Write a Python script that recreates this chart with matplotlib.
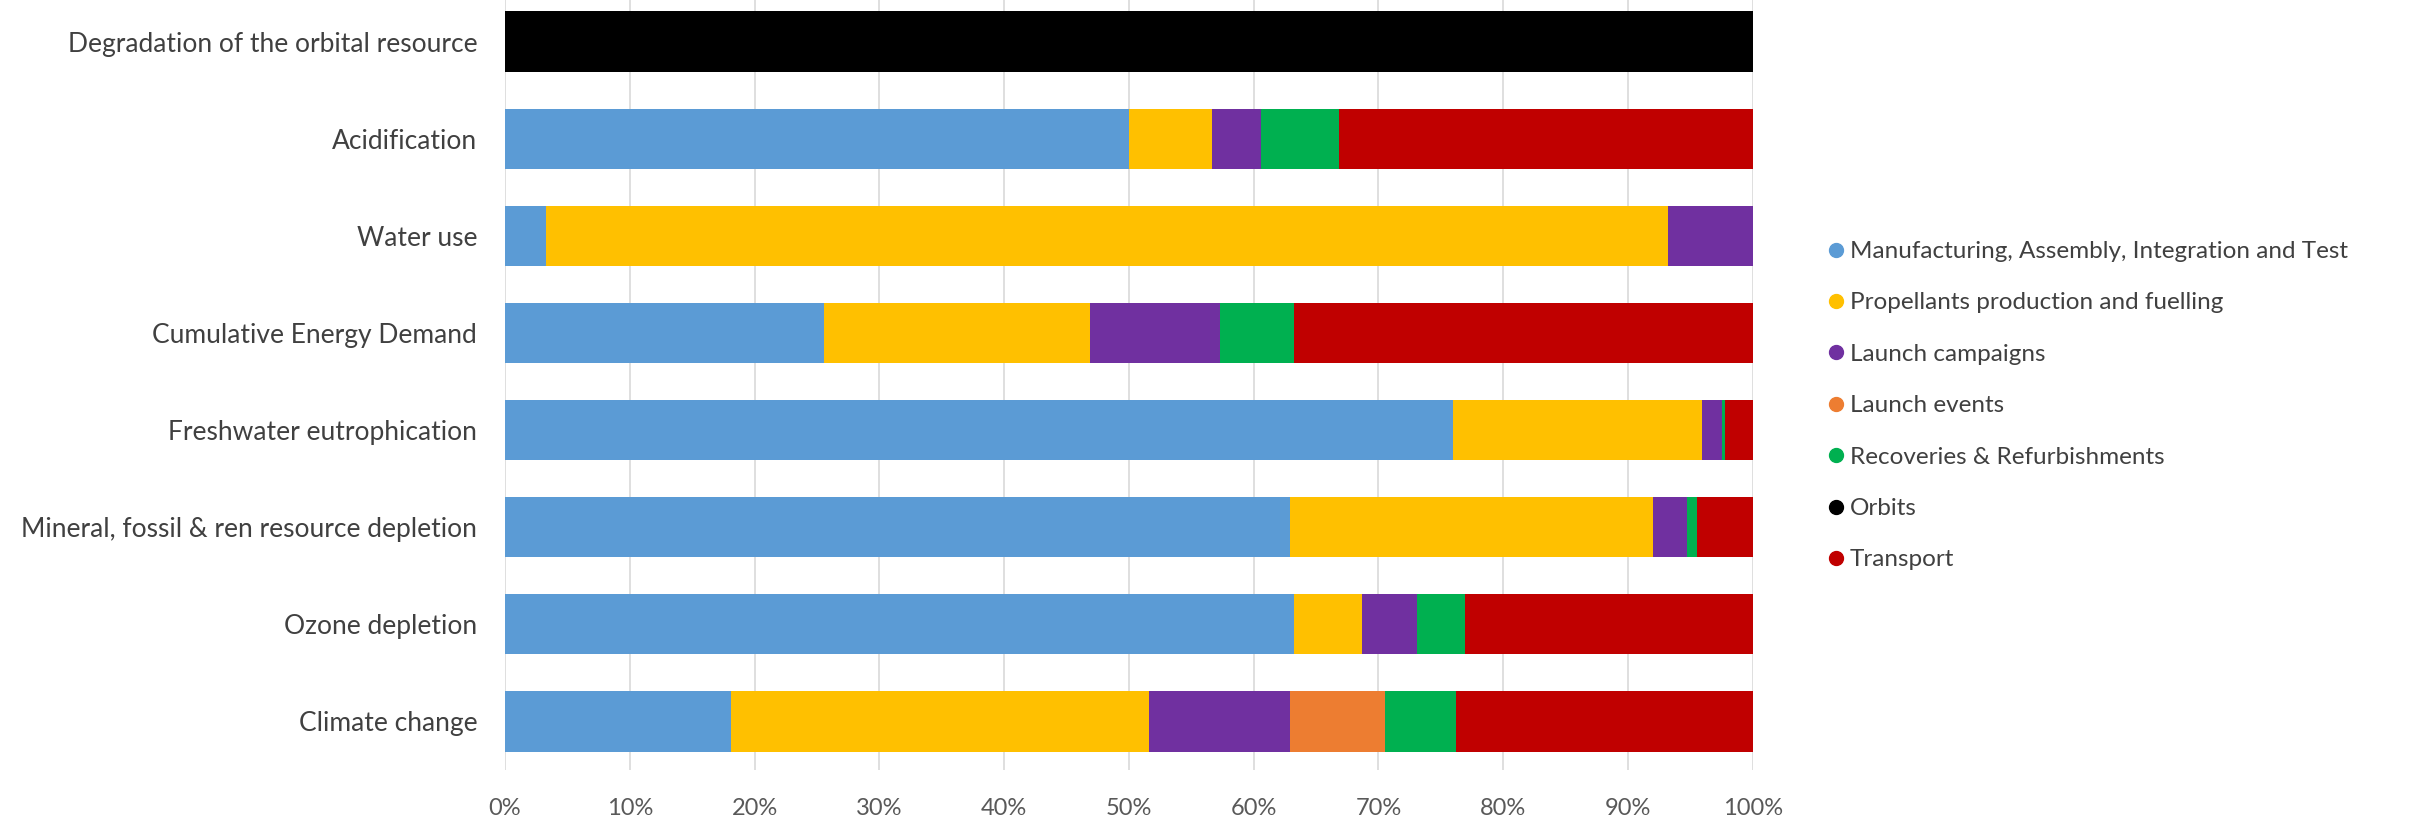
import matplotlib
matplotlib.use("Agg")
import matplotlib.pyplot as plt
from matplotlib.lines import Line2D
import numpy as np

plt.rcParams['font.family'] = ['Lato', 'DejaVu Sans']

# categories from bottom to top
categories = [
    "Climate change",
    "Ozone depletion",
    "Mineral, fossil & ren resource depletion",
    "Freshwater eutrophication",
    "Cumulative Energy Demand",
    "Water use",
    "Acidification",
    "Degradation of the orbital resource",
]

series_names = [
    "Manufacturing, Assembly, Integration and Test",
    "Propellants production and fuelling",
    "Launch campaigns",
    "Launch events",
    "Recoveries & Refurbishments",
    "Orbits",
    "Transport",
]
series_colors = ["#5B9BD5", "#FFC000", "#7030A0", "#ED7D31", "#00B050", "#000000", "#C00000"]

# shares in % for each category (same order as categories)
mait = [18.1, 63.2, 62.9, 76.0, 25.6, 3.3, 50.0, 0]
propellants = [33.5, 5.5, 29.1, 19.9, 21.3, 89.9, 6.7, 0]
launch_campaigns = [11.3, 4.4, 2.7, 1.6, 10.4, 6.8, 3.9, 0]
launch_events = [7.6, 0, 0, 0, 0, 0, 0, 0]
recoveries = [5.7, 3.8, 0.8, 0.3, 5.9, 0, 6.2, 0]
orbits = [0, 0, 0, 0, 0, 0, 0, 100]
transport = [23.8, 23.1, 4.5, 2.2, 36.8, 0, 33.2, 0]

series = [mait, propellants, launch_campaigns, launch_events, recoveries, orbits, transport]

fig = plt.figure(figsize=(24.23, 8.21), dpi=100)
ax = fig.add_axes([0.2084, 0.0621, 0.515, 0.9464])

y = np.arange(len(categories))
left = np.zeros(len(categories))
for name, vals, col in zip(series_names, series, series_colors):
    vals = np.array(vals, dtype=float)
    ax.barh(y, vals, left=left, height=0.62, color=col, label=name, zorder=2)
    left += vals

ax.set_xlim(0, 100)
ax.set_ylim(-0.5, 7.5)
ax.set_xticks(np.arange(0, 101, 10))
ax.set_xticklabels([f"{v}%" for v in range(0, 101, 10)])
ax.set_yticks(y)
ax.set_yticklabels(categories)
ax.tick_params(axis='y', length=0, pad=20, labelsize=19, labelcolor="#404040")
ax.tick_params(axis='x', length=0, pad=20, labelsize=17, labelcolor="#595959")
ax.grid(axis='x', color="#D9D9D9", linewidth=1.2, zorder=0)
for s in ax.spines.values():
    s.set_visible(False)

# legend with round markers, placed right of the plot
handles = [Line2D([0], [0], marker='o', linestyle='', markersize=10,
                  markerfacecolor=c, markeredgecolor=c) for c in series_colors]
fig.legend(handles, series_names, loc='upper left', bbox_to_anchor=(0.7455, 0.733),
           frameon=False, fontsize=17.5, handlelength=0.6, handletextpad=0.3,
           labelspacing=1.25, labelcolor="#404040")

fig.savefig("out.png", dpi=100)
